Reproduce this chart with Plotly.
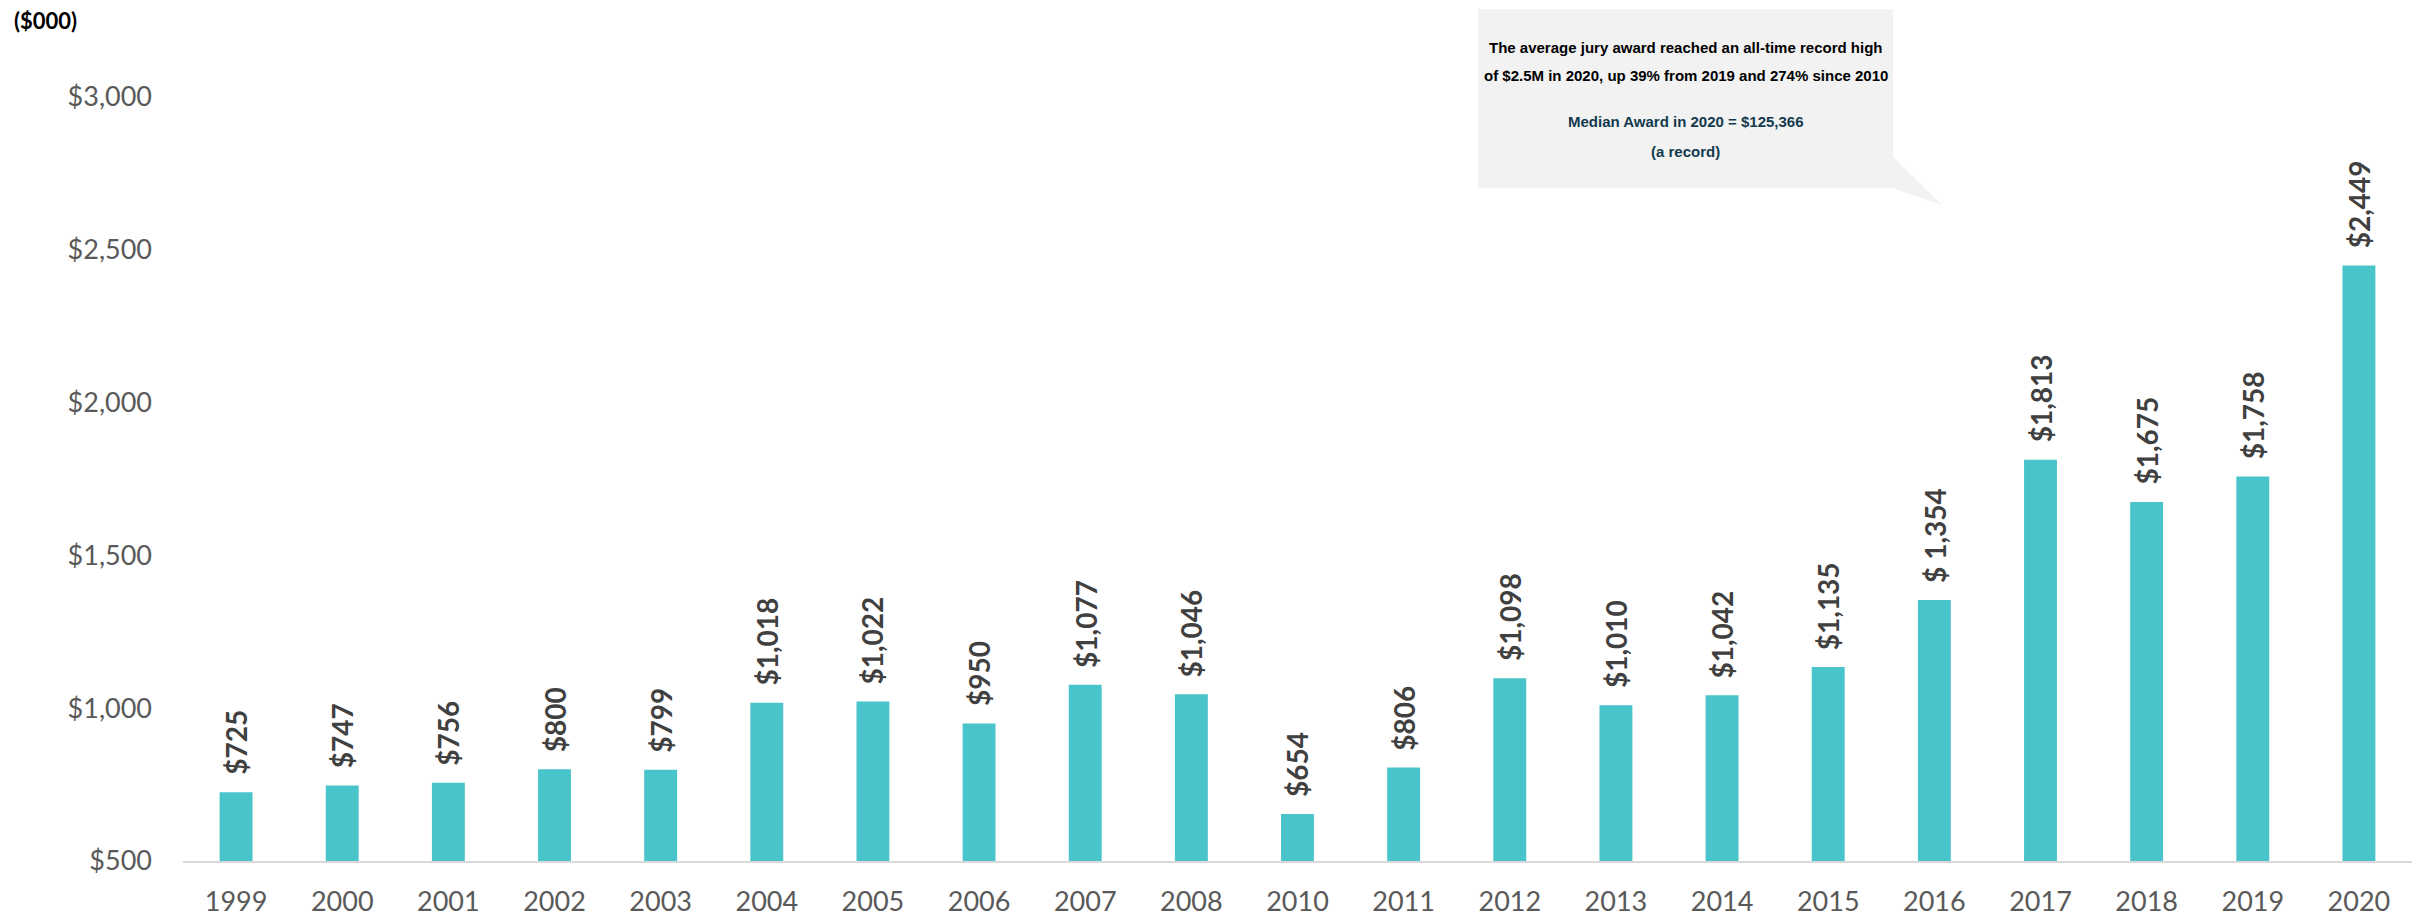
import plotly.graph_objects as go

years = ["1999", "2000", "2001", "2002", "2003", "2004", "2005", "2006", "2007", "2008",
         "2010", "2011", "2012", "2013", "2014", "2015", "2016", "2017", "2018", "2019", "2020"]
avg_award = [725, 747, 756, 800, 799, 1018, 1022, 950, 1077, 1046,
             654, 806, 1098, 1010, 1042, 1135, 1354, 1813, 1675, 1758, 2449]
bar_labels = ["$725", "$747", "$756", "$800", "$799", "$1,018", "$1,022", "$950", "$1,077", "$1,046",
              "$654", "$806", "$1,098", "$1,010", "$1,042", "$1,135", "$ 1,354", "$1,813", "$1,675", "$1,758", "$2,449"]
y_ticks = [500, 1000, 1500, 2000, 2500, 3000]
y_tick_labels = ["$500", "$1,000", "$1,500", "$2,000", "$2,500", "$3,000"]
callout_lines = ["The average jury award reached an all-time record high",
                 "of $2.5M in 2020, up 39% from 2019 and 274% since 2010",
                 "Median Award in 2020 = $125,366",
                 "(a record)"]

# page is offset by the 8px body margin
OFF = 8
W, H = 2425 - OFF, 917 - OFF
PL, PR, PT, PB = 183, 2412, 97, 861          # plot area edges in page pixels
L, R, T, B = PL - OFF, W - (PR - OFF), PT - OFF, H - (PB - OFF)
pw, ph = W - L - R, H - T - B


def px(x):
    return (x - OFF - L) / pw


def py(y):
    return (H - B - (y - OFF)) / ph


fig = go.Figure()
fig.add_trace(go.Bar(
    x=years, y=avg_award,
    marker=dict(color="#49C4CA", line=dict(width=0)),
    width=0.31,
    hoverinfo="x+y",
))

for i, (v, lab) in enumerate(zip(avg_award, bar_labels)):
    fig.add_annotation(
        x=i, y=v, xref="x", yref="y", text="<b>" + lab + "</b>", showarrow=False,
        textangle=-90, yanchor="bottom", xanchor="center", yshift=15,
        font=dict(family="Lato, 'Open Sans', sans-serif", size=28, color="#404040"),
    )

# callout box
bx0, bx1, by0, by1 = 1478, 1893, 188, 9
fig.add_shape(type="rect", xref="paper", yref="paper",
              x0=px(bx0), x1=px(bx1), y0=py(by0), y1=py(by1),
              fillcolor="#F2F2F2", line=dict(width=0), layer="below")
fig.add_shape(type="path", xref="paper", yref="paper",
              path=f"M {px(bx1)},{py(157)} L {px(1942)},{py(205)} L {px(bx1 - 1)},{py(188)} Z",
              fillcolor="#F2F2F2", line=dict(width=0), layer="below")

cx = px((bx0 + bx1) / 2)
fnt = "'Liberation Sans Narrow', 'Arial Narrow', 'Liberation Sans', Arial, sans-serif"
line_y = [47, 76, 122, 151]
line_col = ["#000000", "#000000", "#123A4F", "#123A4F"]
for txt, ly, col in zip(callout_lines, line_y, line_col):
    fig.add_annotation(xref="paper", yref="paper", x=cx, y=py(ly), xanchor="center", yanchor="middle",
                       showarrow=False, text="<b>" + txt + "</b>",
                       font=dict(family=fnt, size=15, color=col), align="center")

fig.add_annotation(xref="paper", yref="paper", x=px(12), y=py(20), xanchor="left", yanchor="middle",
                   showarrow=False, text="<b>($000)</b>",
                   font=dict(family="Lato, sans-serif", size=22, color="#000000"))

fig.update_layout(
    width=W, height=H,
    margin=dict(l=L, r=R, t=T, b=B, pad=0, autoexpand=False),
    paper_bgcolor="white", plot_bgcolor="white",
    showlegend=False,
    font=dict(family="Lato, 'Open Sans', sans-serif", size=27, color="#595959"),
    xaxis=dict(type="category", range=[-0.5, len(years) - 0.5], showgrid=False, showline=True,
               linecolor="#D9D9D9", linewidth=2, automargin=False,
               ticks="", ticklabelstandoff=16, tickfont=dict(size=27, color="#595959")),
    yaxis=dict(range=[500, 3000], tickvals=y_ticks, ticktext=y_tick_labels, showgrid=False,
               zeroline=False, showline=False, ticks="", ticklabelstandoff=30, automargin=False,
               tickfont=dict(size=27, color="#595959")),
)

fig.write_html("out.html")
